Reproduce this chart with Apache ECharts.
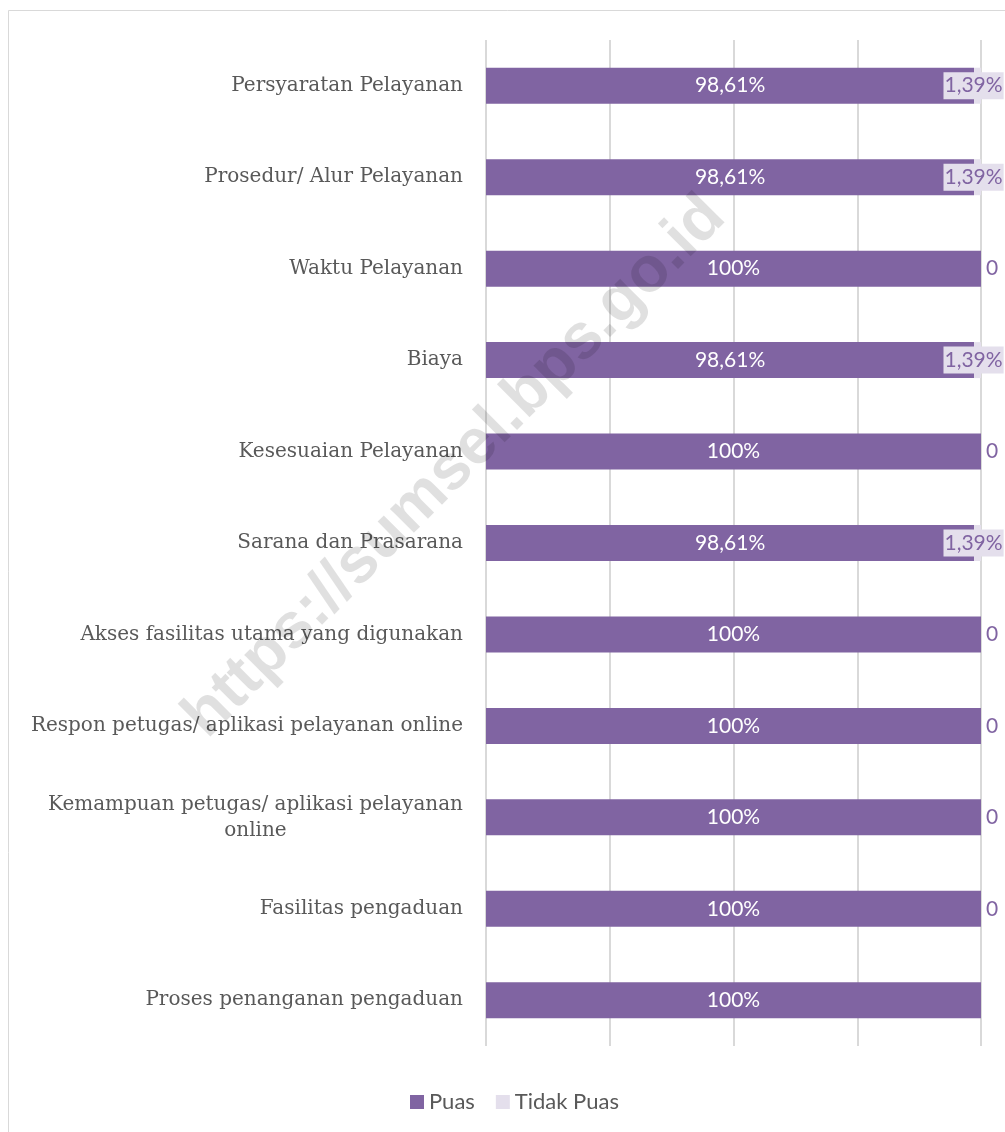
<!DOCTYPE html>
<html>
<head>
<meta charset="utf-8">
<style>
  html, body { margin: 0; padding: 0; background: #ffffff; }
  #chart { width: 1005px; height: 1132px; }
</style>
<script src="https://cdn.jsdelivr.net/npm/echarts@6/dist/echarts.min.js"></script>
</head>
<body>
<div id="chart"></div>
<script>
// Survey items, top to bottom
const categories = [
  'Persyaratan Pelayanan',
  'Prosedur/ Alur Pelayanan',
  'Waktu Pelayanan',
  'Biaya',
  'Kesesuaian Pelayanan',
  'Sarana dan Prasarana',
  'Akses fasilitas utama yang digunakan',
  'Respon petugas/ aplikasi pelayanan online',
  'Kemampuan petugas/ aplikasi pelayanan online',
  'Fasilitas pengaduan',
  'Proses penanganan pengaduan'
];

// Share of respondents (%)
const puas      = [98.61, 98.61, 100, 98.61, 100, 98.61, 100, 100, 100, 100, 100];
const tidakPuas = [1.39, 1.39, 0, 1.39, 0, 1.39, 0, 0, 0, 0, null];

const seriesNames = ['Puas', 'Tidak Puas'];
const xTicks = [0, 25, 50, 75, 100];

const PURPLE = '#8064a2';
const LILAC = '#e4dfec';
const TEXT_GRAY = '#595959';
const SERIF = '"DejaVu Serif", serif';
const SANS = 'Lato, "Open Sans", sans-serif';

function fmtPct(v) {
  if (v === 100) return '100%';
  if (v === 0) return '0';
  return v.toFixed(2).replace('.', ',') + '%';
}

// Greedy word wrap for category labels, centred line by line
const measureCtx = document.createElement('canvas').getContext('2d');
measureCtx.font = '20px ' + SERIF;
function wrapLabel(text, maxWidth) {
  const words = text.split(' ');
  const lines = [];
  let cur = '';
  words.forEach(w => {
    const test = cur ? cur + ' ' + w : w;
    if (cur && measureCtx.measureText(test).width > maxWidth) {
      lines.push(cur);
      cur = w;
    } else {
      cur = test;
    }
  });
  if (cur) lines.push(cur);
  return lines.map(l => '{c|' + l + '}').join('\n');
}

// Zero shares sit just right of the bar end; small shares are centred on
// their segment, on a light chip so the text stays readable over the bar
const tidakData = tidakPuas.map(v => {
  if (v === null) return '-';
  if (v === 0) {
    return { value: v, label: { position: 'right', distance: 5 } };
  }
  return {
    value: v,
    label: {
      position: ['50%', '50%'],
      align: 'center',
      verticalAlign: 'middle',
      offset: [-4, 0],
      backgroundColor: LILAC,
      padding: [3, 1]
    }
  };
});

const chart = echarts.init(document.getElementById('chart'), null, { renderer: 'canvas' });

chart.setOption({
  animation: false,
  backgroundColor: '#ffffff',
  grid: { left: 486, right: 24, top: 40, bottom: 86, containLabel: false },
  legend: {
    data: seriesNames,
    top: 1086,
    left: 405,
    icon: 'rect',
    itemWidth: 14,
    itemHeight: 14,
    itemGap: 21,
    textStyle: { fontFamily: SANS, fontSize: 22, color: TEXT_GRAY },
    selectedMode: false
  },
  xAxis: {
    type: 'value',
    min: xTicks[0],
    max: xTicks[xTicks.length - 1],
    interval: xTicks[1] - xTicks[0],
    axisLine: { show: false },
    axisTick: { show: false },
    axisLabel: { show: false },
    splitLine: { show: true, lineStyle: { color: '#d9d9d9', width: 2 } }
  },
  yAxis: {
    type: 'category',
    data: categories,
    inverse: true,
    axisLine: { show: false },
    axisTick: { show: false },
    axisLabel: {
      margin: 23,
      formatter: v => wrapLabel(v, 445),
      rich: {
        c: { fontFamily: SERIF, fontSize: 20, color: TEXT_GRAY, lineHeight: 26, align: 'center' }
      }
    }
  },
  series: [
    {
      name: seriesNames[0],
      type: 'bar',
      stack: 'total',
      barWidth: 36,
      data: puas,
      itemStyle: { color: PURPLE },
      label: {
        show: true,
        position: 'inside',
        color: '#ffffff',
        fontFamily: SANS,
        fontSize: 21,
        formatter: p => fmtPct(p.value)
      }
    },
    {
      name: seriesNames[1],
      type: 'bar',
      stack: 'total',
      barWidth: 36,
      data: tidakData,
      itemStyle: { color: LILAC },
      label: {
        show: true,
        color: PURPLE,
        fontFamily: SANS,
        fontSize: 21,
        formatter: p => fmtPct(p.value)
      }
    }
  ],
  graphic: [
    {
      type: 'rect',
      shape: { x: 8.5, y: 10.5, width: 1010, height: 1140 },
      style: { fill: 'none', stroke: '#d9d9d9', lineWidth: 1 },
      silent: true,
      z: 0
    },
    {
      type: 'text',
      x: 455,
      y: 467,
      rotation: Math.PI / 4,
      style: {
        text: 'https://sumsel.bps.go.id',
        font: 'bold 64px "Liberation Sans", Arial, sans-serif',
        fill: 'rgba(0,0,0,0.12)',
        align: 'center',
        verticalAlign: 'middle'
      },
      silent: true,
      z: 100
    }
  ]
});
</script>
</body>
</html>
